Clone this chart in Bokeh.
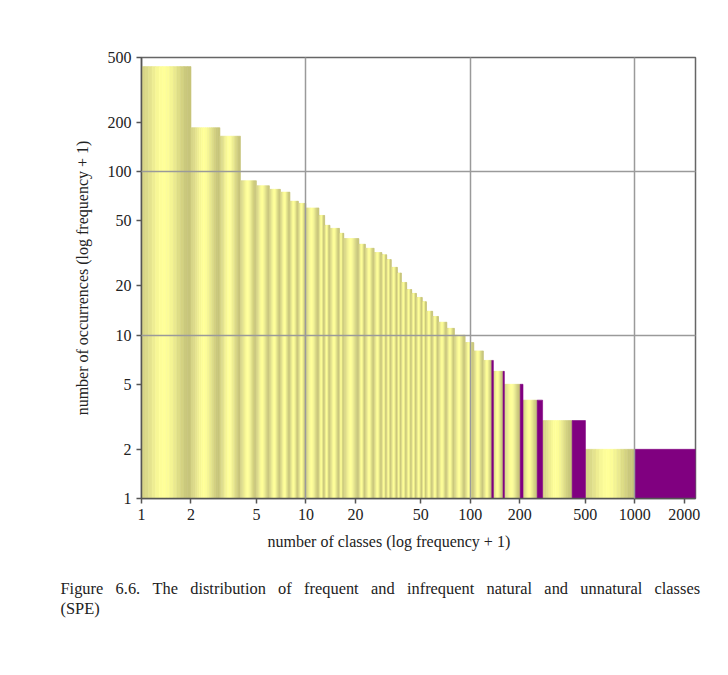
import math
from bokeh.plotting import figure
from bokeh.models import FixedTicker, NumeralTickFormatter, Range1d, Title, ColumnDataSource
from bokeh.embed import file_html
from bokeh.resources import INLINE

# number of occurrences (frequency + 1) per group, and how many classes share it
occurrences = [440, 186, 165, 88, 82, 78, 75, 66, 64, 60, 54, 47, 45, 42, 39, 36, 34, 32, 31, 29,
               26, 24, 21, 19, 18, 17, 16, 14, 13, 12, 11, 10, 9, 8, 7, 6, 5, 4, 3, 2]
natural = [1, 1, 1, 1, 1, 1, 1, 1, 1, 2, 1, 1, 2, 1, 4, 2, 3, 3, 2, 2,
           3, 2, 3, 3, 3, 4, 3, 5, 5, 8, 8, 13, 12, 15, 15, 20, 40, 46, 141, 499]
unnatural = [0] * 34 + [3, 3, 8, 20, 85, 1340]

x_ticks = [1, 2, 5, 10, 20, 50, 100, 200, 500, 1000, 2000]
y_ticks = [1, 2, 5, 10, 20, 50, 100, 200, 500]

caption_1 = "Figure 6.6. The distribution of frequent and infrequent natural and unnatural classes"
caption_2 = "(SPE)"

# ---- build bars (cylinder-shaded natural bars, flat unnatural bars)
N = 14
def shade(t):
    left, peak, right = (214, 212, 136), (255, 255, 153), (198, 196, 122)
    tp = 0.45
    if t < tp:
        a, b, u = left, peak, t / tp
    else:
        a, b, u = peak, right, (t - tp) / (1 - tp)
    u = (1 - math.cos(math.pi * u)) / 2
    c = [round(a[i] + (b[i] - a[i]) * u) for i in range(3)]
    return "#%02x%02x%02x" % tuple(c)

strip_colors = [shade((k + 0.5) / N) for k in range(N)]

yl, yr, yt, yb, yc = [], [], [], [], []
pl, pr, pt, pb = [], [], [], []
start = 1
for h, n, u in zip(occurrences, natural, unnatural):
    L, R = start, start + n
    lL, lR = math.log10(L), math.log10(R)
    for k in range(N):
        yl.append(10 ** (lL + (lR - lL) * k / N))
        yr.append(10 ** (lL + (lR - lL) * (k + 1) / N))
        yt.append(h)
        yb.append(1)
        yc.append(strip_colors[k])
    if u > 0:
        pl.append(R)
        pr.append(R + u)
        pt.append(h)
        pb.append(1)
    start = R + u

x_end = start

p = figure(width=720, height=667, x_axis_type="log", y_axis_type="log",
           x_range=Range1d(1, x_end), y_range=Range1d(1, 500),
           output_backend="svg", toolbar_location=None,
           min_border_left=141, min_border_right=25, min_border_top=57, min_border_bottom=169)

p.quad(left="l", right="r", top="t", bottom="b", fill_color="c", line_color="c", line_width=0.6,
       source=ColumnDataSource(dict(l=yl, r=yr, t=yt, b=yb, c=yc)))
p.quad(left=pl, right=pr, top=pt, bottom=pb, fill_color="#800080", line_color="#800080", line_width=0.6)

serif = "Liberation Serif"
for ax, ticks in ((p.xaxis[0], x_ticks), (p.yaxis[0], y_ticks)):
    ax.ticker = FixedTicker(ticks=ticks, minor_ticks=[])
    ax.formatter = NumeralTickFormatter(format="0")
    ax.major_label_text_font = serif
    ax.major_label_text_font_size = "16px"
    ax.major_label_text_color = "#222222"
    ax.axis_line_color = "#555555"
    ax.axis_line_width = 1.5
    ax.major_tick_line_color = "#555555"
    ax.major_tick_line_width = 1.5
    ax.major_tick_out = 5
    ax.major_tick_in = 0
    ax.minor_tick_out = 0
    ax.minor_tick_in = 0

p.yaxis.axis_label = "number of occurrences (log frequency + 1)"
p.yaxis.axis_label_text_font = serif
p.yaxis.axis_label_text_font_size = "16px"
p.yaxis.axis_label_text_font_style = "normal"
p.yaxis.axis_label_text_color = "#222222"
p.yaxis.axis_label_standoff = 14
p.yaxis.major_label_standoff = 5
p.xaxis.major_label_standoff = 5

p.xgrid.ticker = FixedTicker(ticks=[10, 100, 1000], minor_ticks=[])
p.ygrid.ticker = FixedTicker(ticks=[10, 100], minor_ticks=[])
for g in (p.xgrid[0], p.ygrid[0]):
    g.grid_line_color = "#9a9a9a"
    g.grid_line_width = 1.5
    g.level = "overlay"

p.outline_line_color = "#666666"
p.outline_line_width = 1.5

justified = caption_1.replace(" ", " \u00a0\u00a0")

p.add_layout(Title(text="number of classes (log frequency + 1)", align="left", offset=126,
                   standoff=17, text_font=serif, text_font_size="16px", text_font_style="normal",
                   text_color="#222222"), "below")
p.add_layout(Title(text=justified + "\n" + caption_2, align="left", offset=-81, standoff=37,
                   text_font=serif, text_font_size="16.4px", text_font_style="normal",
                   text_line_height=1.05, text_color="#222222"), "below")

open("out.html", "w").write(file_html(p, INLINE))
